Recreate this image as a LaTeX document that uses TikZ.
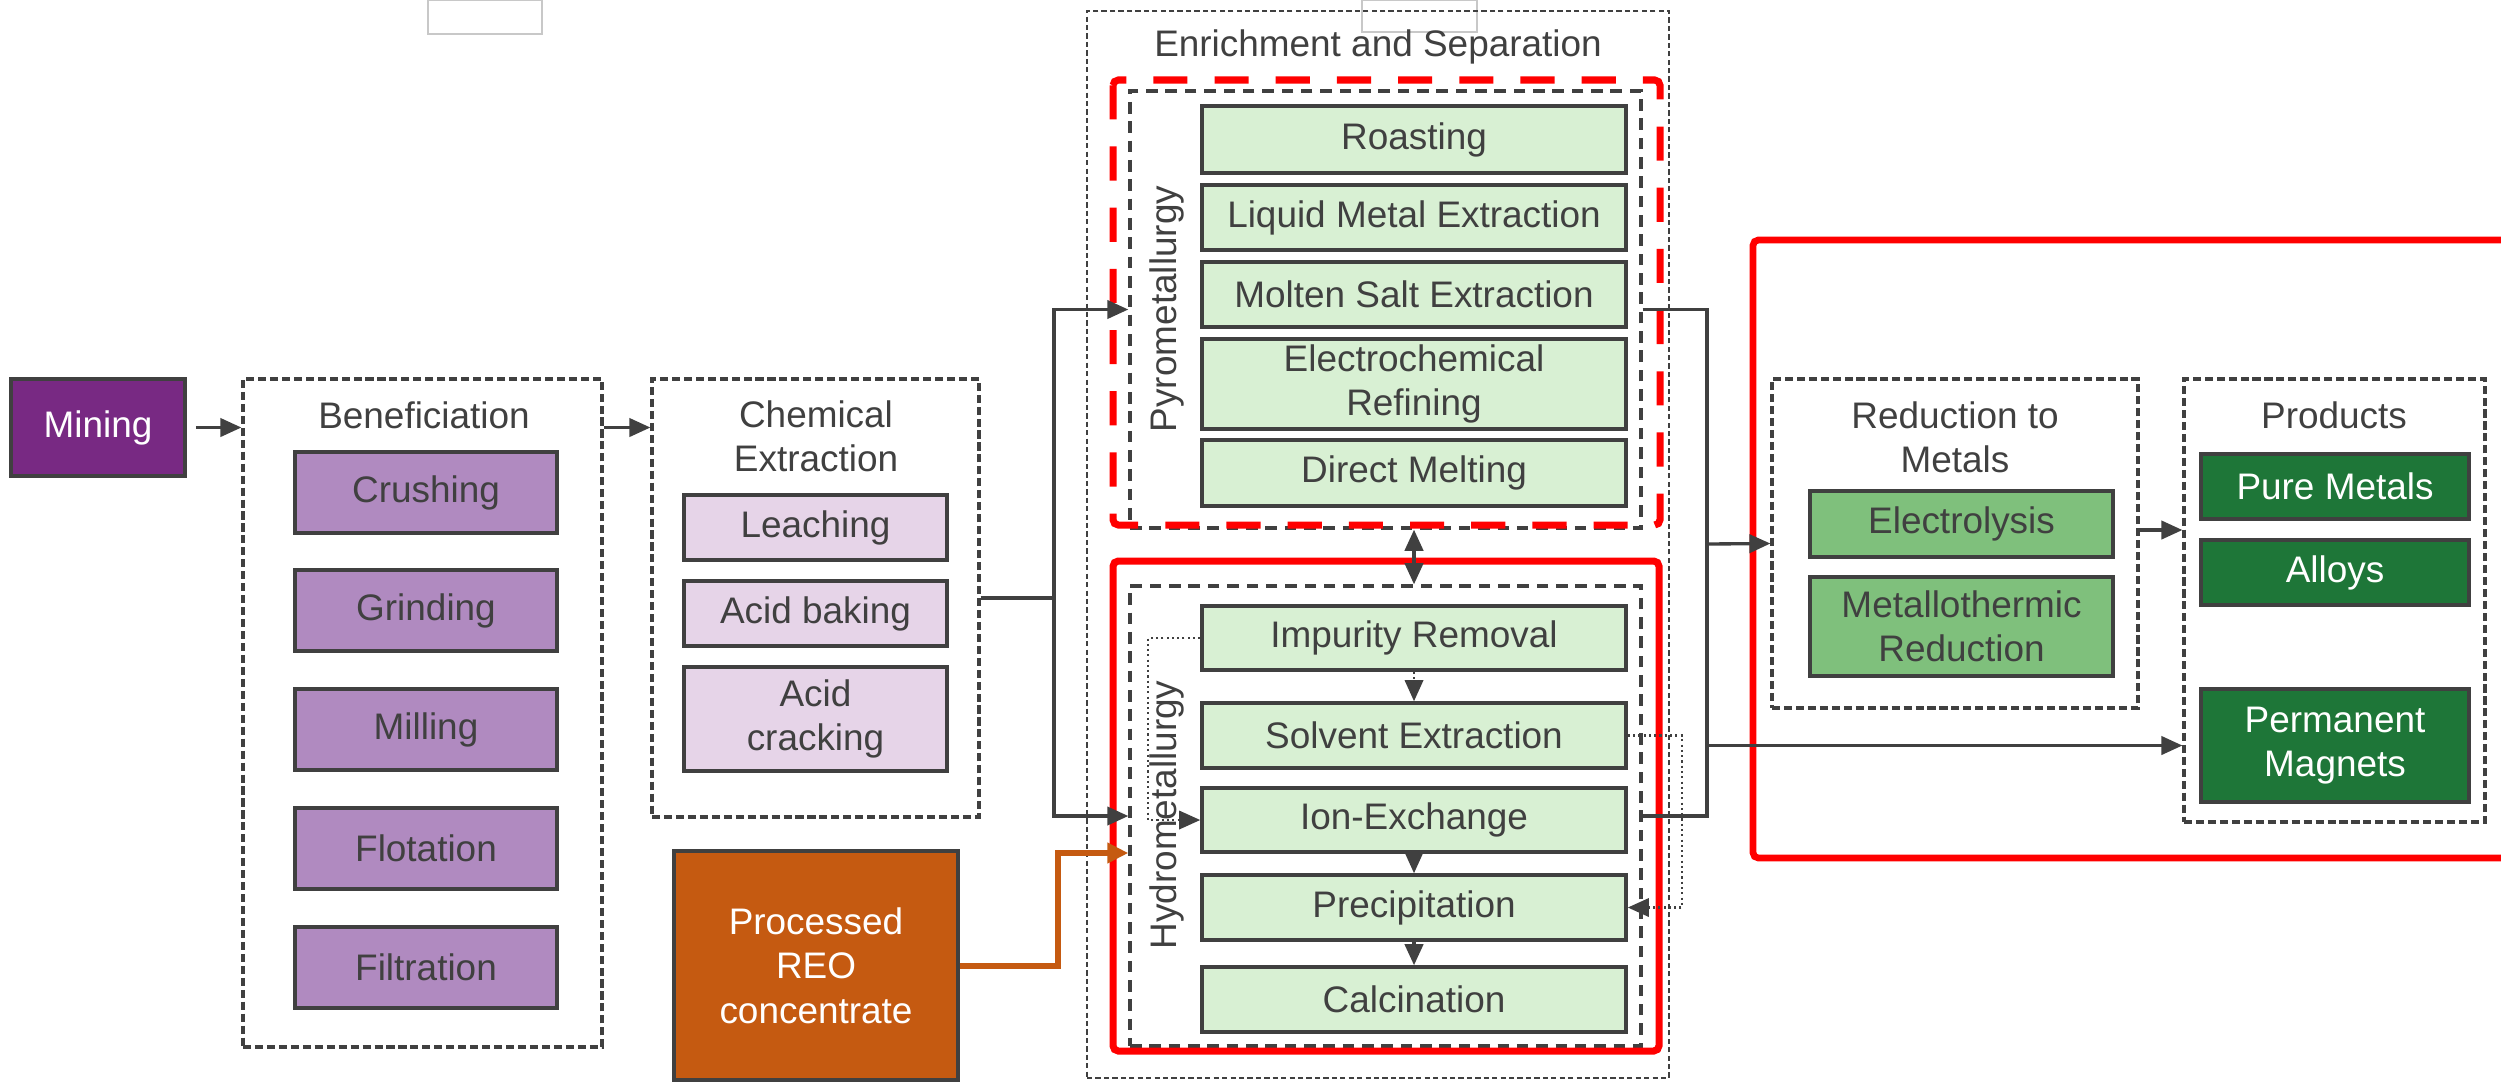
\documentclass[tikz,border=0pt]{standalone}
\usepackage{fontspec}
\setmainfont{Liberation Sans}
\usetikzlibrary{arrows.meta}

\definecolor{linegray}{RGB}{64,64,64}
\definecolor{textgray}{RGB}{64,64,64}
\definecolor{miningpurple}{RGB}{120,41,131}
\definecolor{benpurple}{RGB}{176,138,192}
\definecolor{chempink}{RGB}{230,212,232}
\definecolor{reoorange}{RGB}{197,90,17}
\definecolor{palegreen}{RGB}{216,240,211}
\definecolor{midgreen}{RGB}{127,192,124}
\definecolor{darkgreen}{RGB}{30,118,56}
\definecolor{hilite}{RGB}{255,0,0}
\definecolor{ghost}{RGB}{200,200,200}

\begin{document}
\begin{tikzpicture}[x=0.01cm,y=-0.01cm,
  font=\fontsize{10.5}{12.6}\selectfont,
  sz/.style 2 args={minimum width=#1*0.01cm, minimum height=#2*0.01cm},
  proc/.style={draw=linegray, line width=1pt, inner sep=0pt, align=center, text=textgray},
  group/.style={draw=linegray, line width=0.9pt, dash pattern=on 2.3pt off 1.1pt, inner sep=0pt},
  subgroup/.style={draw=linegray, line width=0.95pt, dash pattern=on 3.3pt off 2.2pt, inner sep=0pt},
  outergroup/.style={draw=linegray, line width=0.75pt, dash pattern=on 1.5pt off 0.9pt, inner sep=0pt},
  heading/.style={text=textgray, align=center, inner sep=0pt},
  tip/.style={-{Triangle[length=6pt,width=5.2pt]}},
  link/.style={draw=linegray, line width=0.95pt},
  arr/.style={link, tip},
  darr/.style={link, {Triangle[length=6pt,width=5.2pt]}-{Triangle[length=6pt,width=5.2pt]}},
  dotarr/.style={draw=linegray, line width=0.75pt, dash pattern=on 0.6pt off 0.9pt, tip},
  orangearr/.style={draw=reoorange, line width=1.7pt, -{Triangle[length=6pt,width=5.6pt]}},
]

% canvas
\path[use as bounding box, fill=white] (0,0) rectangle (2501,1081);

% faint frames at the top edge
\draw[ghost, line width=0.4pt] (428,0) rectangle (542,34);
\draw[ghost, line width=0.4pt] (1362,0) rectangle (1477,32);

% ---------- group frames ----------
\node[group, sz={359}{668}] (ben) at (422.5,713) {};
\node[group, sz={327}{438}] (chem) at (815.5,598) {};
\node[outergroup, sz={582}{1067}] (enr) at (1378,544.5) {};
\node[subgroup, sz={511}{437}] (pyro) at (1385.5,309.5) {};
\node[subgroup, sz={511}{460}] (hydro) at (1385.5,816) {};
\node[group, sz={366}{329}] (redbox) at (1955,543.5) {};
\node[group, sz={301}{443}] (prod) at (2334.5,600.5) {};

% red highlight frames
\draw[hilite, line width=2pt, dash pattern=on 9.7pt off 7.7pt, rounded corners=1.5pt]
  (1113,80) rectangle (1660,525);
\draw[hilite, line width=2pt, rounded corners=1.5pt] (1113,561) rectangle (1659,1051);
\draw[hilite, line width=1.9pt, rounded corners=1.5pt]
  (2520,240) -- (1753,240) -- (1753,858) -- (2520,858);

% ---------- headings ----------
\node[heading] (bentitle) at (424,415) {Beneficiation};
\node[heading] (chemtitle) at (816,436) {Chemical\\Extraction};
\node[heading] (enrtitle) at (1378,47) {Enrichment and Separation};
\node[heading] (redtitle) at (1955,437) {Reduction to\\Metals};
\node[heading] (prodtitle) at (2334,415) {Products};
\node[heading, rotate=90] (pyrolabel) at (1167,309) {Pyrometallurgy};
\node[heading, rotate=90] (hydrolabel) at (1167,815) {Hydrometallurgy};

% ---------- process boxes ----------
\node[proc, fill=miningpurple, text=white, sz={174}{97}] (mining) at (98,427.5) {Mining};

\node[proc, fill=benpurple, sz={262}{81}] (crush) at (426,492.5) {Crushing};
\node[proc, fill=benpurple, sz={262}{81}] (grind) at (426,610.5) {Grinding};
\node[proc, fill=benpurple, sz={262}{81}] (mill)  at (426,729.5) {Milling};
\node[proc, fill=benpurple, sz={262}{81}] (flot)  at (426,848.5) {Flotation};
\node[proc, fill=benpurple, sz={262}{81}] (filt)  at (426,967.5) {Filtration};

\node[proc, fill=chempink, sz={263}{65}]  (leach) at (815.5,527.5) {Leaching};
\node[proc, fill=chempink, sz={263}{65}]  (bake)  at (815.5,613.5) {Acid baking};
\node[proc, fill=chempink, sz={263}{104}] (crack) at (815.5,719) {Acid\\cracking};

\node[proc, fill=reoorange, text=white, sz={284}{229}] (reo) at (816,965.5) {Processed\\REO\\concentrate};

\node[proc, fill=palegreen, sz={424}{67}] (roast)  at (1414,139.5) {Roasting};
\node[proc, fill=palegreen, sz={424}{65}] (liquid) at (1414,217.5) {Liquid Metal Extraction};
\node[proc, fill=palegreen, sz={424}{65}] (molten) at (1414,294.5) {Molten Salt Extraction};
\node[proc, fill=palegreen, sz={424}{90}] (echem)  at (1414,384) {Electrochemical\\Refining};
\node[proc, fill=palegreen, sz={424}{66}] (melt)   at (1414,473) {Direct Melting};

\node[proc, fill=palegreen, sz={424}{64}] (imp)  at (1414,638) {Impurity Removal};
\node[proc, fill=palegreen, sz={424}{65}] (solv) at (1414,735.5) {Solvent Extraction};
\node[proc, fill=palegreen, sz={424}{64}] (ion)  at (1414,820) {Ion-Exchange};
\node[proc, fill=palegreen, sz={424}{65}] (prec) at (1414,907.5) {Precipitation};
\node[proc, fill=palegreen, sz={424}{65}] (calc) at (1414,999.5) {Calcination};

\node[proc, fill=midgreen, sz={303}{66}] (elec)  at (1961.5,524) {Electrolysis};
\node[proc, fill=midgreen, sz={303}{99}] (metth) at (1961.5,626.5) {Metallothermic\\Reduction};

\node[proc, fill=darkgreen, text=white, sz={268}{65}]  (pure)  at (2335,486.5) {Pure Metals};
\node[proc, fill=darkgreen, text=white, sz={268}{65}]  (alloy) at (2335,572.5) {Alloys};
\node[proc, fill=darkgreen, text=white, sz={268}{113}] (perm)  at (2335,745.5) {Permanent\\Magnets};

% ---------- connectors ----------
\draw[arr, shorten <=2.6pt] (mining.east) -- (mining.east -| ben.west);
\draw[arr] (ben.east |- mining.east) -- (chem.west |- mining.east);

\coordinate (cj) at (1054,598);
\draw[link] (chem.east) -- (cj);
\draw[arr] (cj) |- (pyro.west);
\draw[arr] (cj) |- (hydro.west);

\coordinate (oj) at (1058,853);
\draw[orangearr] (reo.east) -| (oj) -- (oj -| hydro.west);

\coordinate (rj) at (1707,544);
\draw[link] (pyro.east) -| (rj) |- (hydro.east);
\draw[arr] (rj) -- (redbox.west);
\draw[arr] (rj |- perm.west) -- (prod.west |- perm.west);

\coordinate (rp) at (2160,530);
\draw[arr] (redbox.east |- rp) -- (prod.west |- rp);

\draw[darr] (roast |- pyro.south) -- (roast |- hydro.north);

\draw[dotarr] (imp) -- (solv);
\draw[dotarr] (ion) -- (prec);
\draw[arr] (prec) -- (calc);

\coordinate (ll) at (1148,720);
\draw[dotarr] (imp.west) -| (ll) |- (ion.west);
\coordinate (rl) at (1682,820);
\draw[dotarr] (solv.east) -| (rl) |- (prec.east);

\end{tikzpicture}
\end{document}
